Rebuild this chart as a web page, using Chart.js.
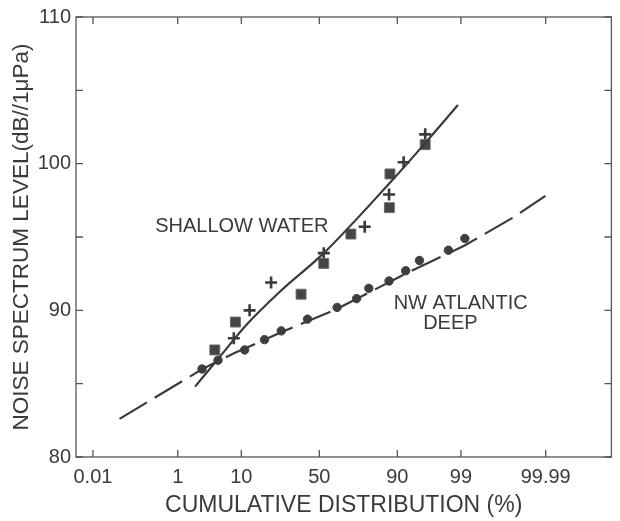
<!DOCTYPE html>
<html>
<head>
<meta charset="utf-8">
<script src="https://cdn.jsdelivr.net/npm/chart.js@4.4.1/dist/chart.umd.min.js"></script>
<style>
  html, body { margin: 0; padding: 0; background: #fff; }
  #wrap { width: 620px; height: 521px; }
</style>
</head>
<body>
<div id="wrap"><canvas id="chartCanvas" width="620" height="521"></canvas></div>
<script>
// x values are cumulative distribution (%), y values are dB//1uPa
const xTickValues = [0.01, 1, 10, 50, 90, 99, 99.99];

const shallowSquarePct = [4.3, 8.4, 38.2, 52.9, 69.8, 87.7, 87.5, 95.9];
const shallowSquareDb = [87.3, 89.2, 91.1, 93.2, 95.2, 99.3, 97.0, 101.3];

const shallowCrossPct = [8.0, 12.6, 21.4, 52.9, 77.2, 87.4, 91.7, 95.9];
const shallowCrossDb = [88.1, 90.0, 91.9, 93.9, 95.7, 97.9, 100.1, 102.0];

const deepPct = [2.7, 4.8, 11.0, 18.4, 26.6, 42.3, 61.5, 73.0, 79.2, 87.4, 92.2, 95.0, 98.3, 99.16];
const deepDb = [86.0, 86.6, 87.3, 88.0, 88.6, 89.4, 90.2, 90.8, 91.5, 92.0, 92.7, 93.4, 94.1, 94.9];

// hand-drawn fit curves
const shallowFitPct = [2.06, 4.84, 11.5, 26.1, 52.9, 87.7, 95.9, 98.86];
const shallowFitDb = [84.8, 86.7, 89.0, 91.3, 93.9, 98.7, 101.4, 104.0];

const deepFitPct = [0.0515, 2.74, 8.3, 26.6, 61.5, 92.2, 99.13, 99.9245, 99.9898];
const deepFitDb = [82.6, 86.0, 87.1, 88.5, 90.1, 92.5, 94.4, 96.3, 97.8];

const noteText = ["SHALLOW WATER", "NW ATLANTIC", "DEEP"];
const notePct = [0.35, 88.9, 95.6];
const noteDb = [95.7, 90.46, 89.1];

const ink = "#3a3a3a";
const font = "'Liberation Sans', Arial, sans-serif";

// inverse normal cdf (Acklam)
function probit(p) {
  const a = [-3.969683028665376e+01, 2.209460984245205e+02, -2.759285104469687e+02, 1.383577518672690e+02, -3.066479806614716e+01, 2.506628277459239e+00];
  const b = [-5.447609879822406e+01, 1.615858368580409e+02, -1.556989798598866e+02, 6.680131188771972e+01, -1.328068155288572e+01];
  const c = [-7.784894002430293e-03, -3.223964580411365e-01, -2.400758277161838e+00, -2.549732539343734e+00, 4.374664141464968e+00, 2.938163982698783e+00];
  const d = [7.784695709041462e-03, 3.224671290700398e-01, 2.445134137142996e+00, 3.754408661907416e+00];
  const plow = 0.02425;
  let q, r;
  if (p < plow) {
    q = Math.sqrt(-2 * Math.log(p));
    return (((((c[0]*q+c[1])*q+c[2])*q+c[3])*q+c[4])*q+c[5]) / ((((d[0]*q+d[1])*q+d[2])*q+d[3])*q+1);
  }
  if (p > 1 - plow) {
    q = Math.sqrt(-2 * Math.log(1 - p));
    return -(((((c[0]*q+c[1])*q+c[2])*q+c[3])*q+c[4])*q+c[5]) / ((((d[0]*q+d[1])*q+d[2])*q+d[3])*q+1);
  }
  q = p - 0.5;
  r = q * q;
  return (((((a[0]*r+a[1])*r+a[2])*r+a[3])*r+a[4])*r+a[5])*q / (((((b[0]*r+b[1])*r+b[2])*r+b[3])*r+b[4])*r+1);
}

// normal probability axis
class ProbitScale extends Chart.Scale {
  determineDataLimits() {
    this.min = this.options.min;
    this.max = this.options.max;
  }
  buildTicks() {
    return xTickValues.map(v => ({ value: v }));
  }
  getLabelForValue(v) {
    return String(v);
  }
  configure() {
    super.configure();
    this._zMin = probit(this.min / 100);
    this._zMax = probit(this.max / 100);
  }
  getPixelForValue(v) {
    return this.getPixelForDecimal((probit(v / 100) - this._zMin) / (this._zMax - this._zMin));
  }
  getPixelForTick(i) {
    return this.getPixelForValue(this.ticks[i].value);
  }
  getValueForPixel(px) {
    let lo = this.min, hi = this.max;
    for (let i = 0; i < 50; i++) {
      const mid = (lo + hi) / 2;
      if (this.getPixelForValue(mid) < px) lo = mid; else hi = mid;
    }
    return (lo + hi) / 2;
  }
}
ProbitScale.id = "probit";
ProbitScale.defaults = {};
Chart.register(ProbitScale);

function pts(xs, ys) {
  return xs.map((x, i) => ({ x: x, y: ys[i] }));
}

// frame, inward ticks and text labels
const framePlugin = {
  id: "frame",
  afterDraw(chart) {
    const ctx = chart.ctx;
    const area = chart.chartArea;
    const xs = chart.scales.x;
    const ys = chart.scales.y;
    const len = 7;
    ctx.save();
    ctx.strokeStyle = "#555";
    ctx.lineWidth = 1.3;
    ctx.strokeRect(area.left, area.top, area.right - area.left, area.bottom - area.top);
    ctx.beginPath();
    xs.ticks.forEach((t, i) => {
      const px = xs.getPixelForTick(i);
      ctx.moveTo(px, area.bottom); ctx.lineTo(px, area.bottom - len);
      ctx.moveTo(px, area.top); ctx.lineTo(px, area.top + len);
    });
    ys.ticks.forEach((t, i) => {
      const py = ys.getPixelForTick(i);
      ctx.moveTo(area.left, py); ctx.lineTo(area.left + len, py);
      ctx.moveTo(area.right, py); ctx.lineTo(area.right - len, py);
    });
    ctx.stroke();

    ctx.fillStyle = ink;
    ctx.font = "20px " + font;
    ctx.textAlign = "left";
    ctx.textBaseline = "middle";
    noteText.forEach((txt, i) => {
      ctx.fillText(txt, xs.getPixelForValue(notePct[i]), ys.getPixelForValue(noteDb[i]));
    });
    ctx.restore();
  }
};

const ctx = document.getElementById("chartCanvas").getContext("2d");
const chart = new Chart(ctx, {
  type: "scatter",
  data: {
    datasets: [
      {
        label: "shallow fit",
        data: pts(shallowFitPct, shallowFitDb),
        showLine: true,
        borderColor: ink,
        borderWidth: 2.2,
        pointRadius: 0,
        cubicInterpolationMode: "monotone"
      },
      {
        label: "deep fit",
        data: pts(deepFitPct, deepFitDb),
        showLine: true,
        borderColor: ink,
        borderWidth: 2.2,
        borderDash: [32, 9],
        pointRadius: 0,
        tension: 0
      },
      {
        label: "shallow squares",
        data: pts(shallowSquarePct, shallowSquareDb),
        pointStyle: "rect",
        pointRadius: 7,
        backgroundColor: "#454545",
        borderColor: "#6a6a6a",
        borderWidth: 1
      },
      {
        label: "shallow crosses",
        data: pts(shallowCrossPct, shallowCrossDb),
        pointStyle: "cross",
        pointRadius: 6,
        borderColor: ink,
        borderWidth: 2.6
      },
      {
        label: "deep",
        data: pts(deepPct, deepDb),
        pointStyle: "circle",
        pointRadius: 4.2,
        backgroundColor: "#3f3f3f",
        borderColor: "#3f3f3f",
        borderWidth: 1
      }
    ]
  },
  options: {
    responsive: false,
    animation: false,
    events: [],
    layout: { padding: { top: 13, right: 2, left: 0, bottom: 0 } },
    plugins: {
      legend: { display: false },
      tooltip: { enabled: false }
    },
    scales: {
      x: {
        type: "probit",
        position: "bottom",
        min: 0.0032,
        max: 99.99992,
        grid: { display: false, drawTicks: false },
        border: { display: false },
        ticks: {
          color: ink,
          font: { family: font, size: 20 },
          padding: 8,
          autoSkip: false,
          maxRotation: 0,
          callback: v => String(v)
        },
        title: {
          display: true,
          text: "CUMULATIVE DISTRIBUTION (%)",
          color: ink,
          font: { family: font, size: 23 },
          padding: { top: 0, bottom: 2 }
        },
        afterFit: scale => { scale.height = 64; }
      },
      y: {
        min: 80,
        max: 110,
        grid: { display: false, drawTicks: false },
        border: { display: false },
        ticks: {
          stepSize: 5,
          color: ink,
          font: { family: font, size: 20 },
          padding: 5,
          callback: v => (v % 10 === 0 ? String(v) : "")
        },
        title: {
          display: true,
          text: "NOISE SPECTRUM LEVEL(dB//1μPa)",
          color: ink,
          font: { family: font, size: 22.5 },
          padding: { top: 8, bottom: 0 }
        },
        afterFit: scale => { scale.width = 76; }
      }
    }
  },
  plugins: [framePlugin]
});
</script>
</body>
</html>
